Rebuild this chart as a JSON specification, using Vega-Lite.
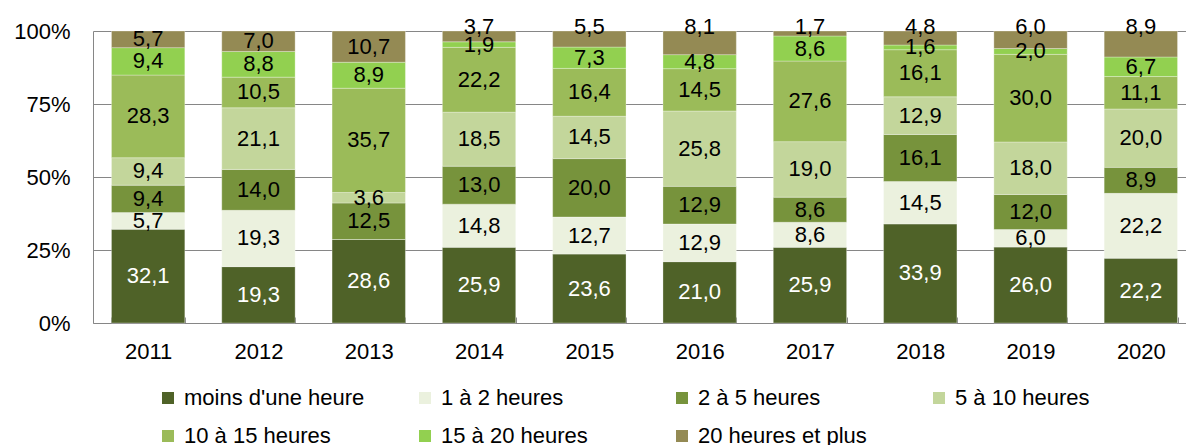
{
  "$schema": "https://vega.github.io/schema/vega-lite/v6.json",
  "width": 1103,
  "height": 292,
  "autosize": {"type": "none"},
  "padding": {"left": 93, "top": 31, "right": 0, "bottom": 122},
  "background": "white",
  "config": {"view": {"stroke": null}, "font": "Liberation Sans"},
  "data": {"values": [
    {"year": "2011", "cat": "moins d'une heure", "value": 32.1},
    {"year": "2011", "cat": "1 à 2 heures", "value": 5.7},
    {"year": "2011", "cat": "2 à 5 heures", "value": 9.4},
    {"year": "2011", "cat": "5 à 10 heures", "value": 9.4},
    {"year": "2011", "cat": "10 à 15 heures", "value": 28.3},
    {"year": "2011", "cat": "15 à 20 heures", "value": 9.4},
    {"year": "2011", "cat": "20 heures et plus", "value": 5.7},
    {"year": "2012", "cat": "moins d'une heure", "value": 19.3},
    {"year": "2012", "cat": "1 à 2 heures", "value": 19.3},
    {"year": "2012", "cat": "2 à 5 heures", "value": 14.0},
    {"year": "2012", "cat": "5 à 10 heures", "value": 21.1},
    {"year": "2012", "cat": "10 à 15 heures", "value": 10.5},
    {"year": "2012", "cat": "15 à 20 heures", "value": 8.8},
    {"year": "2012", "cat": "20 heures et plus", "value": 7.0},
    {"year": "2013", "cat": "moins d'une heure", "value": 28.6},
    {"year": "2013", "cat": "1 à 2 heures", "value": 0},
    {"year": "2013", "cat": "2 à 5 heures", "value": 12.5},
    {"year": "2013", "cat": "5 à 10 heures", "value": 3.6},
    {"year": "2013", "cat": "10 à 15 heures", "value": 35.7},
    {"year": "2013", "cat": "15 à 20 heures", "value": 8.9},
    {"year": "2013", "cat": "20 heures et plus", "value": 10.7},
    {"year": "2014", "cat": "moins d'une heure", "value": 25.9},
    {"year": "2014", "cat": "1 à 2 heures", "value": 14.8},
    {"year": "2014", "cat": "2 à 5 heures", "value": 13.0},
    {"year": "2014", "cat": "5 à 10 heures", "value": 18.5},
    {"year": "2014", "cat": "10 à 15 heures", "value": 22.2},
    {"year": "2014", "cat": "15 à 20 heures", "value": 1.9},
    {"year": "2014", "cat": "20 heures et plus", "value": 3.7},
    {"year": "2015", "cat": "moins d'une heure", "value": 23.6},
    {"year": "2015", "cat": "1 à 2 heures", "value": 12.7},
    {"year": "2015", "cat": "2 à 5 heures", "value": 20.0},
    {"year": "2015", "cat": "5 à 10 heures", "value": 14.5},
    {"year": "2015", "cat": "10 à 15 heures", "value": 16.4},
    {"year": "2015", "cat": "15 à 20 heures", "value": 7.3},
    {"year": "2015", "cat": "20 heures et plus", "value": 5.5},
    {"year": "2016", "cat": "moins d'une heure", "value": 21.0},
    {"year": "2016", "cat": "1 à 2 heures", "value": 12.9},
    {"year": "2016", "cat": "2 à 5 heures", "value": 12.9},
    {"year": "2016", "cat": "5 à 10 heures", "value": 25.8},
    {"year": "2016", "cat": "10 à 15 heures", "value": 14.5},
    {"year": "2016", "cat": "15 à 20 heures", "value": 4.8},
    {"year": "2016", "cat": "20 heures et plus", "value": 8.1},
    {"year": "2017", "cat": "moins d'une heure", "value": 25.9},
    {"year": "2017", "cat": "1 à 2 heures", "value": 8.6},
    {"year": "2017", "cat": "2 à 5 heures", "value": 8.6},
    {"year": "2017", "cat": "5 à 10 heures", "value": 19.0},
    {"year": "2017", "cat": "10 à 15 heures", "value": 27.6},
    {"year": "2017", "cat": "15 à 20 heures", "value": 8.6},
    {"year": "2017", "cat": "20 heures et plus", "value": 1.7},
    {"year": "2018", "cat": "moins d'une heure", "value": 33.9},
    {"year": "2018", "cat": "1 à 2 heures", "value": 14.5},
    {"year": "2018", "cat": "2 à 5 heures", "value": 16.1},
    {"year": "2018", "cat": "5 à 10 heures", "value": 12.9},
    {"year": "2018", "cat": "10 à 15 heures", "value": 16.1},
    {"year": "2018", "cat": "15 à 20 heures", "value": 1.6},
    {"year": "2018", "cat": "20 heures et plus", "value": 4.8},
    {"year": "2019", "cat": "moins d'une heure", "value": 26.0},
    {"year": "2019", "cat": "1 à 2 heures", "value": 6.0},
    {"year": "2019", "cat": "2 à 5 heures", "value": 12.0},
    {"year": "2019", "cat": "5 à 10 heures", "value": 18.0},
    {"year": "2019", "cat": "10 à 15 heures", "value": 30.0},
    {"year": "2019", "cat": "15 à 20 heures", "value": 2.0},
    {"year": "2019", "cat": "20 heures et plus", "value": 6.0},
    {"year": "2020", "cat": "moins d'une heure", "value": 22.2},
    {"year": "2020", "cat": "1 à 2 heures", "value": 22.2},
    {"year": "2020", "cat": "2 à 5 heures", "value": 8.9},
    {"year": "2020", "cat": "5 à 10 heures", "value": 20.0},
    {"year": "2020", "cat": "10 à 15 heures", "value": 11.1},
    {"year": "2020", "cat": "15 à 20 heures", "value": 6.7},
    {"year": "2020", "cat": "20 heures et plus", "value": 8.9}
  ]},
  "transform": [
    {"calculate": "indexof(['moins d\\'une heure', '1 à 2 heures', '2 à 5 heures', '5 à 10 heures', '10 à 15 heures', '15 à 20 heures', '20 heures et plus'], datum.cat)", "as": "ord"},
    {"stack": "value", "groupby": ["year"], "sort": [{"field": "ord", "order": "ascending"}], "offset": "normalize", "as": ["y0", "y1"]},
    {"calculate": "(datum.y0 + datum.y1) / 2", "as": "mid"},
    {"calculate": "replace(format(datum.value, '.1f'), '.', ',')", "as": "lbl"}
  ],
  "encoding": {
    "x": {
      "field": "year", "type": "nominal", "title": null,
      "scale": {"paddingInner": 0.335, "paddingOuter": 0.1675},
      "axis": {"labelAngle": 0, "labelFontSize": 22, "labelColor": "#000000", "domainColor": "#868686", "tickColor": "#868686", "tickBand": "extent", "tickSize": -6, "labelPadding": 24, "grid": false}
    }
  },
  "layer": [
    {
      "mark": {"type": "bar", "stroke": "#ffffff", "strokeWidth": 0.5, "strokeOpacity": 0.6},
      "encoding": {
        "y": {"field": "y0", "type": "quantitative", "title": null, "scale": {"domain": [0, 1]},
          "axis": {"format": ".0%", "values": [0, 0.25, 0.5, 0.75, 1], "labelFontSize": 22, "labelColor": "#000000", "gridColor": "#868686", "domainColor": "#868686", "ticks": false, "labelPadding": 23}},
        "y2": {"field": "y1"},
        "color": {
          "field": "cat", "type": "nominal", "sort": null,
          "scale": {
            "domain": ["moins d'une heure", "1 à 2 heures", "2 à 5 heures", "5 à 10 heures", "10 à 15 heures", "15 à 20 heures", "20 heures et plus"],
            "range": ["#4F6228", "#EBF1DE", "#77933C", "#C3D69B", "#9BBB59", "#92D050", "#948A54"]
          },
          "legend": {
            "title": null, "orient": "none", "legendX": 64, "legendY": 356, "direction": "horizontal", "columns": 4, "gridAlign": "all",
            "columnPadding": 49, "rowPadding": 16, "symbolType": "square", "symbolSize": 144, "symbolStrokeWidth": 0,
            "labelFontSize": 22, "labelColor": "#000000", "labelLimit": 400, "labelOffset": 5, "padding": 0
          }
        },
        "order": {"field": "ord"}
      }
    },
    {
      "transform": [{"filter": "datum.value > 0 && !(datum.cat === '20 heures et plus' && toNumber(datum.year) >= 2014)"}],
      "mark": {"type": "text", "fontSize": 22, "baseline": "middle", "align": "center"},
      "encoding": {
        "y": {"field": "mid", "type": "quantitative"},
        "text": {"field": "lbl"},
        "color": {"condition": {"test": "datum.cat === \"moins d'une heure\"", "value": "#ffffff"}, "value": "#000000"}
      }
    },
    {
      "transform": [{"filter": "datum.cat === '20 heures et plus' && toNumber(datum.year) >= 2014"}],
      "mark": {"type": "text", "fontSize": 22, "baseline": "middle", "align": "center", "dy": -4, "color": "#000000"},
      "encoding": {
        "y": {"datum": 1, "type": "quantitative"},
        "text": {"field": "lbl"}
      }
    }
  ]
}
